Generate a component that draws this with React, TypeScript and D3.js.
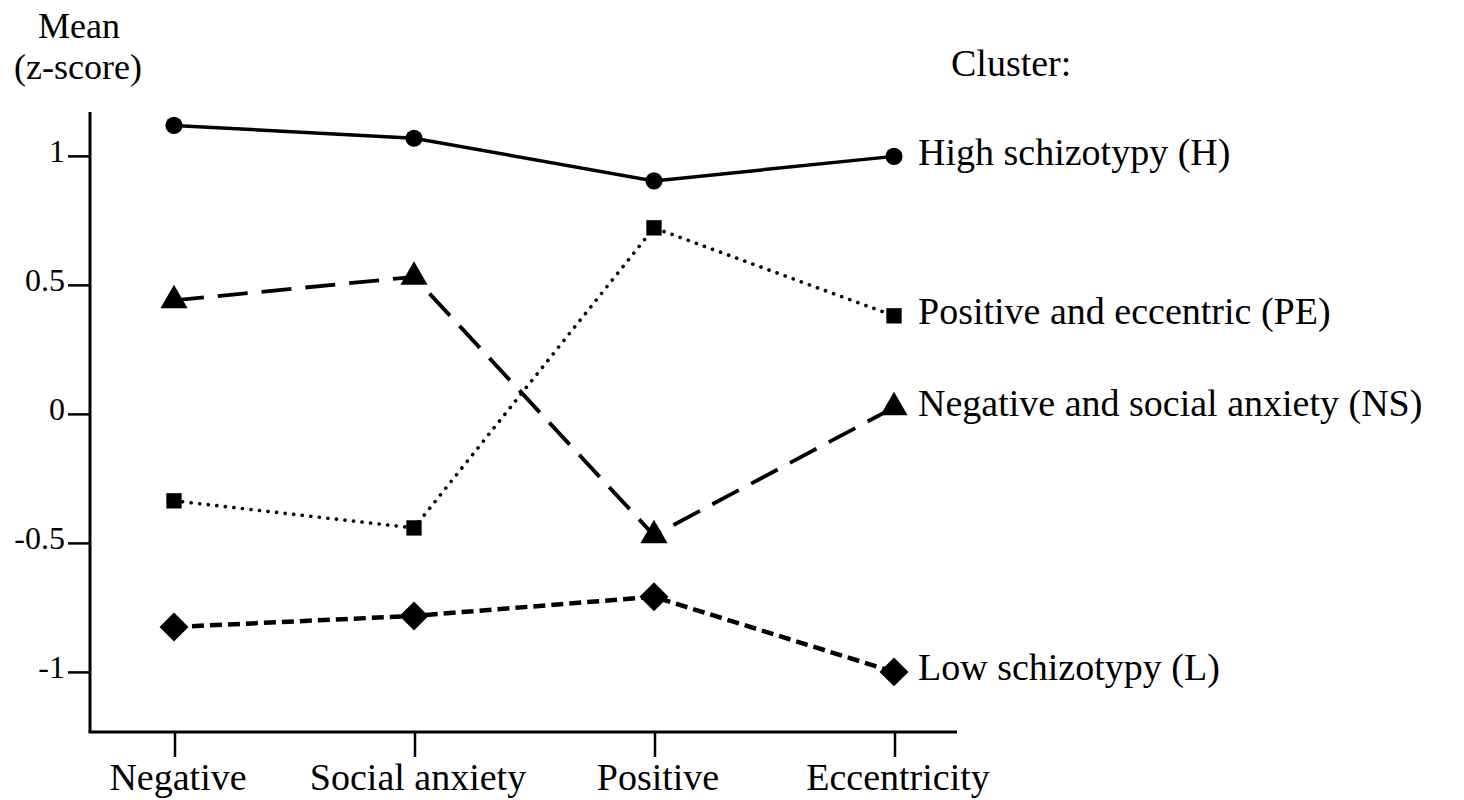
import * as d3 from "d3";

const categories = ["Negative", "Social anxiety", "Positive", "Eccentricity"];
const clusterNames = [
  "High schizotypy (H)",
  "Positive and eccentric (PE)",
  "Negative and social anxiety (NS)",
  "Low schizotypy (L)",
];
const highValues = [1.12, 1.07, 0.905, 1.0];
const posEccValues = [-0.335, -0.44, 0.723, 0.382];
const negSocValues = [0.442, 0.533, -0.469, 0.027];
const lowValues = [-0.824, -0.781, -0.707, -0.998];
const yTicks = [1, 0.5, 0, -0.5, -1];
const yTickLabels = ["1", "0.5", "0", "-0.5", "-1"];

const W = 1464;
const H = 800;
const FONT = "'Liberation Serif', 'Times New Roman', serif";

// square diamond (square turned 45deg), size = area
const squareDiamond = {
  draw(ctx: any, size: number) {
    const r = Math.sqrt(size / 2);
    ctx.moveTo(0, -r);
    ctx.lineTo(r, 0);
    ctx.lineTo(0, r);
    ctx.lineTo(-r, 0);
    ctx.closePath();
  },
};

export default function App() {
  const x = d3.scalePoint<string>().domain(categories).range([174, 894]);
  const y = d3.scaleLinear().domain([-1.231, 1.172]).range([732, 112]);
  const axisLeft = 90;
  const axisRight = 957;

  const line = d3
    .line<number>()
    .x((_, i) => x(categories[i])!)
    .y((d) => y(d));

  const series = [
    { name: clusterNames[0], values: highValues, marker: "circle", dash: null, width: 3.5, cap: "butt" },
    { name: clusterNames[1], values: posEccValues, marker: "square", dash: "0.1 8.5", width: 3.6, cap: "round" },
    { name: clusterNames[2], values: negSocValues, marker: "triangle", dash: "30 14", width: 3.8, cap: "butt" },
    { name: clusterNames[3], values: lowValues, marker: "diamond", dash: "12 6", width: 4.5, cap: "butt" },
  ];

  const symbolFor = (m: string) => {
    if (m === "circle") return d3.symbol(d3.symbolCircle, 230)();
    if (m === "square") return d3.symbol(d3.symbolSquare, 235)();
    if (m === "triangle") return d3.symbol(d3.symbolTriangle, 320)();
    return d3.symbol(squareDiamond as any, 420)();
  };

  return (
    <svg
      width={W}
      height={H}
      viewBox={`0 0 ${W} ${H}`}
      style={{ position: "absolute", left: 0, top: 0, background: "#fff" }}
      fontFamily={FONT}
    >
      {/* axis title */}
      <text x={79} y={38} fontSize={36} textAnchor="middle" fill="#000">Mean</text>
      <text x={78} y={79} fontSize={36} textAnchor="middle" fill="#000">(z-score)</text>
      <text x={951} y={76} fontSize={38} fill="#000">Cluster:</text>

      {/* y axis */}
      <line x1={axisLeft} x2={axisLeft} y1={y(1.172)} y2={y(-1.231)} stroke="#000" strokeWidth={3} />
      {yTicks.map((t, i) => (
        <g key={t}>
          <line x1={68} x2={axisLeft} y1={y(t)} y2={y(t)} stroke="#000" strokeWidth={2.5} />
          <text x={65} y={y(t)} dy="0.17em" fontSize={32} textAnchor="end" fill="#000">
            {yTickLabels[i]}
          </text>
        </g>
      ))}

      {/* x axis */}
      <line x1={axisLeft - 1.5} x2={axisRight} y1={732} y2={732} stroke="#000" strokeWidth={3} />
      {categories.map((c) => (
        <g key={c}>
          <line x1={x(c)! + 1} x2={x(c)! + 1} y1={732} y2={757} stroke="#000" strokeWidth={2.5} />
          <text x={x(c)! + 4} y={790} fontSize={38} textAnchor="middle" fill="#000">{c}</text>
        </g>
      ))}

      {/* series */}
      {series.map((s) => (
        <g key={s.name}>
          <path
            d={line(s.values)!}
            fill="none"
            stroke="#000"
            strokeWidth={s.width}
            strokeDasharray={s.dash ?? undefined}
            strokeLinecap={s.cap as any}
          />
          {s.values.map((v, i) => (
            <path
              key={i}
              d={symbolFor(s.marker)!}
              transform={`translate(${x(categories[i])},${y(v)})`}
              fill="#000"
            />
          ))}
          <text
            x={x(categories[categories.length - 1])! + 24}
            y={y(s.values[s.values.length - 1]) - 5}
            dy="0.35em"
            fontSize={38}
            fill="#000"
          >
            {s.name}
          </text>
        </g>
      ))}
    </svg>
  );
}
